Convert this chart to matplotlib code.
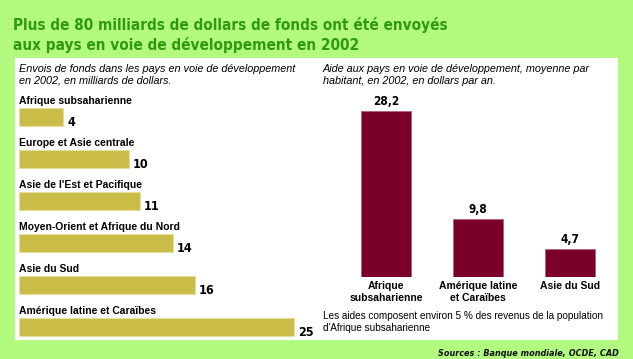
import matplotlib.pyplot as plt
from matplotlib.patches import Rectangle

# left panel: remittances, billions of dollars
envois_regions = ["Afrique subsaharienne", "Europe et Asie centrale", "Asie de l'Est et Pacifique",
                  "Moyen-Orient et Afrique du Nord", "Asie du Sud", "Amérique latine et Caraïbes"]
envois_values = [4, 10, 11, 14, 16, 25]

# right panel: aid per inhabitant, dollars per year
aide_regions = ["Afrique\nsubsaharienne", "Amérique latine\net Caraïbes", "Asie du Sud"]
aide_values = [28.2, 9.8, 4.7]
aide_labels = ["28,2", "9,8", "4,7"]

W, H = 633, 359
bg = '#b1f97f'
green = '#2f9a0e'
olive = '#c9bd48'
red = '#7b0029'
body = ['Liberation Sans', 'DejaVu Sans']
narrow = ['DejaVu Sans']

fig = plt.figure(figsize=(W / 100, H / 100), dpi=100, facecolor=bg)

def px(x, y):
    # pixel coords (from top-left) to figure fraction
    return x / W, 1 - y / H

# white panel
fig.patches.append(Rectangle(px(15, 340), 603 / W, 282 / H, transform=fig.transFigure,
                             facecolor='white', edgecolor='none', zorder=-5))

fig.text(*px(13, 30), "Plus de 80 milliards de dollars de fonds ont été envoyés",
         family=narrow, stretch='condensed', weight='bold', size=11, color=green, va='baseline')
fig.text(*px(13, 50), "aux pays en voie de développement en 2002",
         family=narrow, stretch='condensed', weight='bold', size=11, color=green, va='baseline')

fig.text(*px(19, 64), "Envois de fonds dans les pays en voie de développement\nen 2002, en milliards de dollars.",
         family=body, style='italic', size=7.8, va='top', linespacing=1.2)
fig.text(*px(323, 64), "Aide aux pays en voie de développement, moyenne par\nhabitant, en 2002, en dollars par an.",
         family=body, style='italic', size=7.8, va='top', linespacing=1.2)

# left bar chart: 11 px per unit, rows 42 px apart
ax1 = fig.add_axes([19 / W, 1 - 348 / H, 300 / W, 252 / H])
ax1.set_xlim(0, 300 / 11)
ax1.set_ylim(5.5, -0.5)
ax1.axis('off')
rows = list(range(len(envois_values)))
ax1.barh(rows, envois_values, height=18 / 42, color=olive, edgecolor='#e6dd9a', linewidth=0.8)
for i, (name, v) in enumerate(zip(envois_regions, envois_values)):
    ax1.text(0, i - 16 / 42, name, family=body, weight='bold', size=7.5, va='center', ha='left')
    ax1.text(v + 4 / 11, i + 9 / 42, str(v), family=narrow, stretch='condensed', weight='bold',
             size=9, va='baseline', ha='left')

# right bar chart: 92 px per bar, 5.89 px per unit
ax2 = fig.add_axes([340 / W, 1 - 277 / H, 276 / W, 187 / H])
ax2.set_xlim(-0.5, 2.5)
ax2.set_ylim(0, 187 / 5.89)
ax2.axis('off')
xs = list(range(len(aide_values)))
ax2.bar(xs, aide_values, width=50 / 92, color=red, edgecolor='#b06080', linewidth=0.6)
for x, v, lab, name in zip(xs, aide_values, aide_labels, aide_regions):
    ax2.annotate(lab, (x, v), xytext=(0, 3), textcoords='offset pixels', ha='center', va='bottom',
                 family=narrow, stretch='condensed', weight='bold', size=8.5, annotation_clip=False)
    ax2.annotate(name, (x, 0), xytext=(0, -4), textcoords='offset pixels', ha='center', va='top',
                 family=body, weight='bold', size=7.5, linespacing=1.3, annotation_clip=False)

fig.text(*px(323, 311), "Les aides composent environ 5 % des revenus de la population\nd'Afrique subsaharienne",
         family=body, size=7.2, va='top', linespacing=1.25)

fig.text(*px(619, 356), "Sources : Banque mondiale, OCDE, CAD", family=narrow, stretch='condensed',
         weight='bold', style='italic', size=6.5, ha='right', va='baseline', color='#111111')

fig.savefig('out.png', dpi=100, facecolor=bg)
